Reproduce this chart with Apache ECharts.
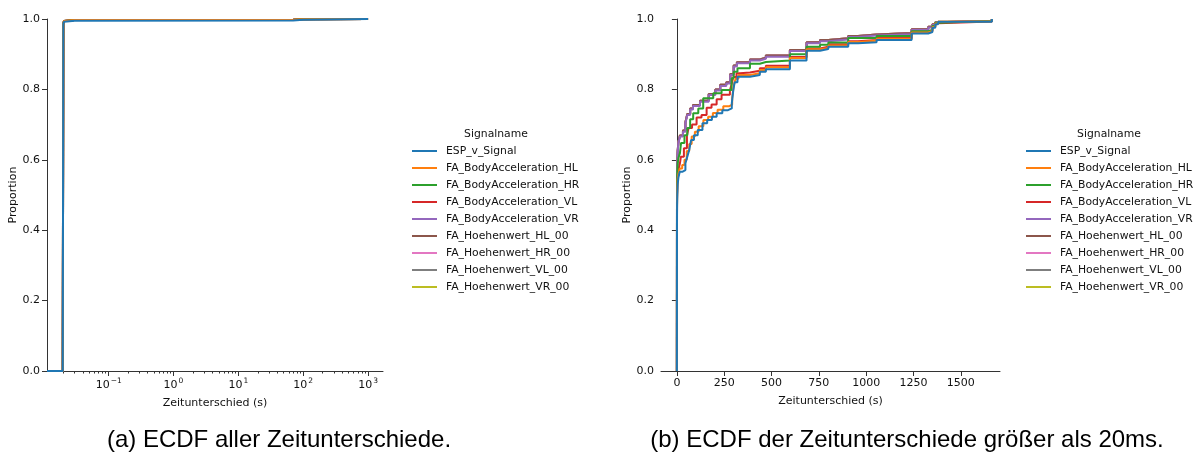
<!DOCTYPE html>
<html><head><meta charset="utf-8">
<script src="https://cdn.jsdelivr.net/npm/echarts@6/dist/echarts.min.js"></script>
<style>html,body{margin:0;padding:0;background:#fff}#c{width:1195px;height:460px}</style>
</head><body><div id="c"></div>
<script>
const seriesNames = ['ESP_v_Signal','FA_BodyAcceleration_HL','FA_BodyAcceleration_HR','FA_BodyAcceleration_VL','FA_BodyAcceleration_VR','FA_Hoehenwert_HL_00','FA_Hoehenwert_HR_00','FA_Hoehenwert_VL_00','FA_Hoehenwert_VR_00'];
const colors = ['#1f77b4','#ff7f0e','#2ca02c','#d62728','#9467bd','#8c564b','#e377c2','#7f7f7f','#bcbd22'];

// (a) all time differences, log x (seconds) -> proportion
const leftBlue  = [[0.0112,0],[0.0196,0.012],[0.0200,0.986],[0.0205,0.992],[0.021,0.995],[0.03,0.996],[70,0.998],[100,1.0],[1000,1.0]];
const leftOther = [[0.0112,0],[0.0196,0.012],[0.0200,0.988],[0.0205,0.994],[0.021,0.997],[0.03,0.998],[70,0.999],[100,1.0],[1000,1.0]];
const logMajorTicks = [0.1,1,10,100,1000];
const logMinorTicks = [0.02,0.03,0.04,0.05,0.06,0.07,0.08,0.09,0.2,0.3,0.4,0.5,0.6,0.7,0.8,0.9,2,3,4,5,6,7,8,9,20,30,40,50,60,70,80,90,200,300,400,500,600,700,800,900];

// (b) time differences > 20 ms, linear x (seconds) -> proportion
const espV = [[0,0],[0.5,0.42],[1,0.47],[2,0.50],[4,0.53],[8,0.55],[15,0.566],[28,0.571],[45,0.59],[55,0.609],[65,0.628],[75,0.656],[90,0.670],[110,0.685],[135,0.704],[160,0.713],[185,0.722],[210,0.732],[240,0.741],[270,0.746],[290,0.760],[298,0.798],[305,0.82],[320,0.836],[386,0.841],[438,0.850],[470,0.857],[597,0.882],[685,0.910],[756,0.915],[800,0.921],[905,0.931],[957,0.934],[1055,0.940],[1240,0.959],[1328,0.963],[1350,0.975],[1365,0.985],[1380,0.992],[1664,1.0]];
const bodyHL = [[0,0],[0.5,0.44],[1,0.49],[2,0.52],[4,0.545],[8,0.56],[15,0.575],[28,0.585],[40,0.60],[52,0.625],[65,0.645],[78,0.666],[95,0.68],[115,0.695],[140,0.713],[165,0.722],[190,0.733],[215,0.742],[245,0.752],[275,0.757],[292,0.775],[300,0.81],[310,0.83],[325,0.841],[386,0.846],[438,0.855],[470,0.863],[597,0.889],[685,0.914],[756,0.918],[800,0.925],[905,0.935],[957,0.938],[1055,0.944],[1240,0.962],[1328,0.966],[1350,0.977],[1365,0.987],[1380,0.993],[1664,1.0]];
const bodyHR = [[0,0],[0.5,0.46],[1,0.52],[2,0.56],[4,0.59],[8,0.605],[16,0.619],[22,0.648],[40,0.670],[55,0.690],[70,0.715],[86,0.732],[113,0.746],[139,0.775],[192,0.789],[236,0.798],[289,0.832],[300,0.850],[320,0.860],[386,0.873],[438,0.878],[470,0.882],[597,0.900],[685,0.921],[756,0.927],[800,0.933],[905,0.946],[1055,0.952],[1240,0.965],[1328,0.970],[1350,0.980],[1365,0.989],[1380,0.994],[1664,1.0]];
const bodyVL = [[0,0],[0.5,0.45],[1,0.50],[2,0.53],[4,0.555],[8,0.571],[16,0.59],[21,0.609],[37,0.633],[53,0.670],[62,0.690],[80,0.700],[104,0.720],[130,0.727],[157,0.748],[183,0.757],[210,0.772],[236,0.785],[280,0.797],[290,0.817],[298,0.835],[315,0.846],[333,0.848],[386,0.853],[438,0.860],[470,0.867],[597,0.892],[685,0.916],[756,0.921],[800,0.928],[905,0.937],[957,0.940],[1055,0.946],[1240,0.963],[1328,0.967],[1350,0.978],[1365,0.988],[1380,0.993],[1664,1.0]];
const bodyVR = [[0,0],[0.5,0.48],[1,0.55],[2,0.59],[4,0.62],[8,0.647],[16,0.666],[32,0.680],[45,0.704],[55,0.727],[70,0.743],[85,0.753],[122,0.765],[168,0.784],[203,0.797],[229,0.810],[261,0.817],[282,0.841],[300,0.865],[317,0.874],[386,0.882],[438,0.887],[470,0.893],[597,0.909],[685,0.931],[756,0.937],[800,0.942],[905,0.949],[957,0.953],[1055,0.957],[1240,0.969],[1328,0.976],[1350,0.983],[1365,0.990],[1380,0.995],[1664,1.0]];
const hoehen = [[0,0],[0.5,0.48],[1,0.55],[2,0.595],[4,0.625],[8,0.650],[16,0.669],[32,0.683],[45,0.707],[55,0.730],[70,0.746],[85,0.756],[122,0.768],[168,0.787],[203,0.800],[229,0.813],[261,0.820],[282,0.844],[300,0.868],[317,0.877],[386,0.885],[438,0.890],[470,0.896],[597,0.912],[685,0.934],[756,0.940],[800,0.945],[905,0.952],[957,0.956],[1055,0.960],[1240,0.971],[1328,0.978],[1350,0.985],[1365,0.991],[1380,0.995],[1664,1.0]];
const rightData = [espV, bodyHL, bodyHR, bodyVL, bodyVR, hoehen, hoehen, hoehen, hoehen];
const linTicks = [0,250,500,750,1000,1250,1500];
const yTicks = [0,0.2,0.4,0.6,0.8,1.0];

const FONT = 'DejaVu Sans';
const FS = 11;
const TXT = '#111';
const AX = '#333';

function yAxisCfg(gi){
  return {type:'value', gridIndex:gi, min:0, max:1, interval:0.2,
    name:'Proportion', nameLocation:'middle', nameGap:28, nameRotate:90,
    nameTextStyle:{fontFamily:FONT, fontSize:FS, color:TXT},
    axisLine:{show:true, lineStyle:{color:AX, width:1}},
    axisTick:{show:true, length:5, lineStyle:{color:AX}},
    axisLabel:{fontFamily:FONT, fontSize:FS, color:TXT, margin:7, formatter:v=>v.toFixed(1)},
    splitLine:{show:false}};
}

const series = [];
// draw in reverse order so the first hue ends on top
for (let i = seriesNames.length-1; i >= 0; i--) {
  series.push({name:seriesNames[i], type:'line', xAxisIndex:0, yAxisIndex:0, step:'end', symbol:'none',
    data: i===0 ? leftBlue : leftOther, lineStyle:{width:2, color:colors[i]}, itemStyle:{color:colors[i]}, silent:true, animation:false});
}
for (let i = seriesNames.length-1; i >= 0; i--) {
  series.push({name:seriesNames[i], type:'line', xAxisIndex:2, yAxisIndex:1, step:'end', symbol:'none',
    data: rightData[i], lineStyle:{width:2, color:colors[i]}, itemStyle:{color:colors[i]}, silent:true, animation:false});
}

function legendCfg(left){
  return {data:seriesNames, left:left, top:144, orient:'vertical', itemWidth:25, itemHeight:14, itemGap:3, padding:0,
    selectedMode:false, icon:'path://M0,6 L25,6 L25,8 L0,8 Z',
    textStyle:{fontFamily:FONT, fontSize:10.8, color:TXT, lineHeight:14, padding:[0,0,0,4]}};
}

const supMap = v => { const e = Math.round(Math.log10(v)); return '{b|10}{s|' + (e<0 ? '\u2212'+(-e) : String(e)) + '}'; };

const option = {
  animation:false,
  color:colors,
  grid:[{left:47, top:19, width:336, height:352}, {left:661, top:19, width:339, height:352}],
  xAxis:[
    {type:'log', logBase:10, gridIndex:0, position:'bottom', min:0.0112, max:1700,
     name:'Zeitunterschied (s)', nameLocation:'middle', nameGap:25,
     nameTextStyle:{fontFamily:FONT, fontSize:FS, color:TXT},
     axisLine:{show:true, lineStyle:{color:AX, width:1}},
     axisTick:{show:true, length:5, customValues:logMajorTicks, lineStyle:{color:AX}},
     axisLabel:{customValues:logMajorTicks, margin:7, formatter:supMap, color:TXT,
       rich:{b:{fontFamily:FONT, fontSize:FS, color:TXT, lineHeight:14},
             s:{fontFamily:FONT, fontSize:7.5, color:TXT, lineHeight:8, padding:[0,0,8,1]}}},
     splitLine:{show:false}, minorTick:{show:false}},
    {type:'log', logBase:10, gridIndex:0, position:'bottom', offset:0, min:0.0112, max:1700,
     axisLine:{show:false}, axisLabel:{show:false}, splitLine:{show:false},
     axisTick:{show:true, length:2.5, customValues:logMinorTicks, lineStyle:{color:AX}}},
    {type:'value', gridIndex:1, position:'bottom', min:-84, max:1707,
     name:'Zeitunterschied (s)', nameLocation:'middle', nameGap:25,
     nameTextStyle:{fontFamily:FONT, fontSize:FS, color:TXT},
     axisLine:{show:true, onZero:false, lineStyle:{color:AX, width:1}},
     axisTick:{show:true, length:5, customValues:linTicks, lineStyle:{color:AX}},
     axisLabel:{customValues:linTicks, margin:7, fontFamily:FONT, fontSize:FS, color:TXT, formatter:v=>String(v)},
     splitLine:{show:false}}
  ],
  yAxis:[yAxisCfg(0), yAxisCfg(1)],
  legend:[legendCfg(412), legendCfg(1026)],
  graphic:[
    {type:'text', x:496, y:134, style:{text:'Signalname', fontFamily:FONT, fontSize:10.8, fill:TXT, align:'center', verticalAlign:'middle'}},
    {type:'text', x:1109, y:134, style:{text:'Signalname', fontFamily:FONT, fontSize:10.8, fill:TXT, align:'center', verticalAlign:'middle'}},
    {type:'text', x:279, y:440, style:{text:'(a) ECDF aller Zeitunterschiede.', fontFamily:'Liberation Sans', fontSize:24, fill:'#000', align:'center', verticalAlign:'middle'}},
    {type:'text', x:907, y:440, style:{text:'(b) ECDF der Zeitunterschiede größer als 20ms.', fontFamily:'Liberation Sans', fontSize:24, fill:'#000', align:'center', verticalAlign:'middle'}}
  ],
  series:series
};
const chart = echarts.init(document.getElementById('c'), null, {renderer:'canvas'});
chart.setOption(option);
</script></body></html>
